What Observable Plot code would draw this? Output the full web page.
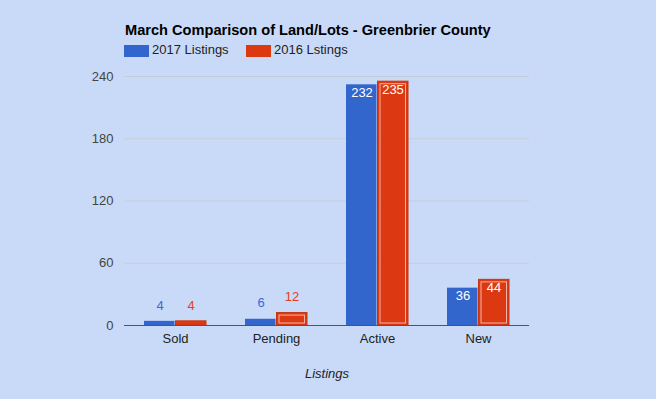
<!DOCTYPE html>
<html>
<head>
<meta charset="utf-8">
<script src="https://cdn.jsdelivr.net/npm/d3@7"></script>
<script src="https://cdn.jsdelivr.net/npm/@observablehq/plot@0.6"></script>
<style>
  html, body { margin: 0; padding: 0; background: #c9daf8; }
  #wrap { position: relative; width: 656px; height: 399px; font-family: "Liberation Sans", Arial, sans-serif; overflow: hidden; }
  #title { position: absolute; left: 125px; top: 23px; font-size: 14.6px; line-height: 14px; font-weight: bold; color: #000; white-space: nowrap; }
  .sw { position: absolute; top: 45px; width: 25px; height: 12px; }
  .lt { position: absolute; top: 43px; font-size: 13px; line-height: 13px; color: #222; white-space: nowrap; }
  #chart { position: absolute; left: 0; top: 0; }
</style>
</head>
<body>
<div id="wrap">
  <div id="chart"></div>
  <div id="title"></div>
  <div class="sw" id="sw0" style="left:124px"></div>
  <div class="lt" id="lt0" style="left:152px"></div>
  <div class="sw" id="sw1" style="left:246px"></div>
  <div class="lt" id="lt1" style="left:274px"></div>
</div>
<script>
const titleText = "March Comparison of Land/Lots - Greenbrier County";
const seriesNames = ["2017 Listings", "2016 Lstings"];
const seriesColors = ["#3366cc", "#dc3912"];
const categories = ["Sold", "Pending", "Active", "New"];
const values2017 = [4, 6, 232, 36];
const values2016 = [4, 12, 235, 44];
const yTicks = [0, 60, 120, 180, 240];
const xTitle = "Listings";

document.getElementById("title").textContent = titleText;
document.getElementById("sw0").style.background = seriesColors[0];
document.getElementById("sw1").style.background = seriesColors[1];
document.getElementById("lt0").textContent = seriesNames[0];
document.getElementById("lt1").textContent = seriesNames[1];

const d17 = categories.map((c, i) => ({cat: c, v: values2017[i]}));
const d16 = categories.map((c, i) => ({cat: c, v: values2016[i]}));
const inside = d => d.v >= 30;
const outside = d => d.v < 30;

const half = 31.5;
const chart = Plot.plot({
  width: 656,
  height: 399,
  marginLeft: 124,
  marginRight: 127,
  marginTop: 76,
  marginBottom: 74,
  style: {background: "transparent", fontFamily: "Liberation Sans, Arial, sans-serif", fontSize: "13px"},
  x: {domain: categories, paddingInner: 0.386, paddingOuter: 0.19, label: null},
  y: {domain: [0, 240], label: null},
  marks: [
    Plot.ruleY(yTicks.filter(t => t > 0), {stroke: "#c7cdd6", strokeWidth: 1}),
    Plot.axisY({ticks: yTicks, tickSize: 0, tickPadding: 11, fill: "#444", fontSize: 13, label: null}),
    Plot.axisX({tickSize: 0, tickPadding: 8, fill: "#222", fontSize: 13, label: null}),
    Plot.barY(d17, {x: "cat", y: "v", fill: seriesColors[0], insetRight: half}),
    Plot.barY(d16, {x: "cat", y: "v", fill: seriesColors[1], stroke: "#c93410", strokeWidth: 1, insetLeft: half}),
    Plot.barY(d16, {x: "cat", y1: 0, y2: "v", fill: "none", stroke: "#f2b3a6", strokeWidth: 1, insetLeft: half + 2.5, insetRight: 2.5, insetTop: 2.5, insetBottom: 2}),
    Plot.ruleY([0], {stroke: "#555", strokeWidth: 1.2}),
    Plot.text(d17.filter(outside), {x: "cat", y: "v", text: d => String(d.v), dx: -15.5, dy: -16, fill: "#3a68d4", fontSize: 13}),
    Plot.text(d16.filter(outside), {x: "cat", y: "v", text: d => String(d.v), dx: 15.5, dy: -16, fill: "#e0401c", fontSize: 13}),
    Plot.text(d17.filter(inside), {x: "cat", y: "v", text: d => String(d.v), dx: -15.5, dy: 8, fill: "#ffffff", fontSize: 13}),
    Plot.text(d16.filter(inside), {x: "cat", y: "v", text: d => String(d.v), dx: 15.5, dy: 8, fill: "#ffffff", fontSize: 13}),
    Plot.text([xTitle], {frameAnchor: "bottom", dy: 52, text: d => d, fontStyle: "italic", fill: "#222", fontSize: 13})
  ]
});
document.getElementById("chart").appendChild(chart);
</script>
</body>
</html>
